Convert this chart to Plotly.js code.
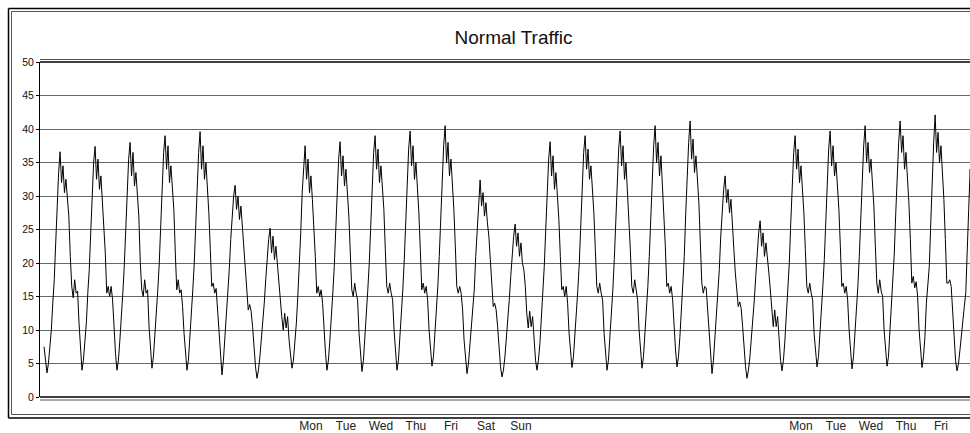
<!DOCTYPE html>
<html>
<head>
<meta charset="utf-8">
<script src="https://cdn.plot.ly/plotly-3.0.1.min.js"></script>
<style>
  html, body { margin: 0; padding: 0; background: #fff; overflow: hidden; }
  #chart { width: 970px; height: 433px; }
</style>
</head>
<body>
<div id="chart"></div>
<script>
// ---- DATA (hourly traffic readings, first reading at hour -1) ----
const firstHour = -1;

// Week 1: lead-in reading + Mon..Sun (days 0-6)
const week1 = [
  7.5,
  5.2, 3.6, 5, 7.5, 10, 14, 17.5, 23, 29, 33.5, 36.6, 32, 34.5, 30.5, 32.5, 30, 27, 21, 16.5, 14.8, 17.5, 15.5, 15.8, 11,
  7, 4.0, 5.5, 8, 11, 15.5, 19, 24.5, 30, 35, 37.4, 32.5, 35.5, 31, 33, 29.5, 26, 21.5, 15.5, 16.5, 15, 16.5, 14.5, 10,
  6.5, 4.0, 5.5, 8.5, 11.5, 15.5, 19.5, 25, 31, 35.5, 38, 33, 36.5, 31.5, 33.5, 30.5, 27, 20, 16, 15, 17.5, 15.5, 16, 10.5,
  7, 4.3, 6, 9, 12, 16, 20, 26, 32, 36.5, 39, 34, 37.5, 32, 34.5, 31, 28, 21.5, 16, 17.5, 15.5, 16, 13.5, 9.5,
  6, 4.0, 5.5, 8.5, 12, 16, 20, 26, 32, 36.5, 39.6, 34, 37.5, 32.5, 35, 31.5, 27.5, 22, 16.5, 17, 15.5, 16.2, 13, 9,
  5.5, 3.3, 5.5, 8.5, 12, 15, 19, 23.5, 27.5, 30, 31.6, 28, 30, 26.5, 28.5, 25.5, 22, 19, 15.5, 13, 13.8, 12.8, 10.5, 7,
  4.5, 2.8, 4, 6, 8.5, 11.5, 14, 17.5, 21, 23.5, 25.2, 21.5, 24, 20.5, 22.5, 19.5, 17.5, 14, 12, 10, 12.5, 10.3, 12, 8.5
];

// Week 2: Mon..Sun (days 7-13)
const week2 = [
  6, 4.3, 5.5, 8, 11, 15, 19, 24.5, 30.5, 35, 37.5, 32.5, 35.5, 30.5, 33, 29.5, 26, 21, 15.5, 16.5, 15, 16, 14, 9.5,
  6.5, 4.0, 5.5, 8.5, 11.5, 15.5, 19.5, 25, 31, 35.5, 38.1, 33, 36, 31.5, 34, 30.5, 27, 21.5, 16, 15, 17, 15.5, 14.5, 9.5,
  6, 3.8, 5.5, 8.5, 12, 16, 20, 26, 32, 36.5, 39, 34, 37, 32, 34.5, 31, 28, 22, 16.5, 15.5, 17, 15.5, 14.5, 10,
  6.5, 4.0, 5.5, 8.5, 12, 16, 20.5, 26.5, 32.5, 37, 39.7, 34.5, 37.5, 32.5, 35, 31.5, 27.5, 22, 16, 17, 15.5, 16.5, 14.5, 10,
  7, 4.6, 6, 9, 12.5, 16.5, 21, 27, 33, 37.5, 40.5, 35, 38, 33, 35.5, 32, 28, 22.5, 16.5, 15.5, 16.5, 15.5, 13, 8.5,
  6, 3.5, 5, 7.5, 10.5, 13, 16, 21, 25.5, 29.5, 32.4, 28.5, 30.5, 27, 29, 26, 24, 20.5, 16, 13.5, 14, 13, 10.5, 7,
  4.5, 3.0, 4, 6, 8.5, 11.5, 14.5, 18, 21.5, 24, 25.8, 22.5, 24.5, 21, 23, 20, 19, 16.5, 12.5, 10.3, 12.8, 10.5, 12, 8
];

// Week 3: Mon..Sun (days 14-20)
const week3 = [
  5.5, 4.0, 5.5, 8, 11.5, 15.5, 19.5, 25, 31, 35.5, 38.1, 33, 36, 31, 33.5, 30, 26.5, 21, 16, 16.5, 15, 16.5, 14, 9.5,
  6.5, 4.4, 6, 9, 12, 16, 20, 26, 32, 36.5, 39, 34, 37, 32.5, 34.5, 31, 27.5, 22, 16.5, 15.5, 17, 15.5, 14.5, 9.5,
  6.5, 4.0, 5.5, 8.5, 12, 16, 20.5, 26.5, 32.5, 37, 39.7, 34.5, 37.5, 32.5, 35, 31, 28, 22, 16.5, 15.5, 17.5, 15.5, 14.5, 10,
  6.5, 4.3, 6, 9, 12.5, 16.5, 21, 27, 33, 37.5, 40.5, 35, 38, 33, 36, 32, 28.5, 22.5, 16.5, 17, 15.5, 16.5, 14.5, 10,
  7, 4.5, 6, 9, 12.5, 16.5, 21, 27.5, 33.5, 38, 41.2, 35.5, 38.5, 33.5, 36, 32.5, 29, 23, 17, 15.5, 16.5, 16.3, 13, 8.5,
  5.5, 3.5, 5.5, 8.5, 12, 15, 19, 24, 28, 31, 33, 29, 31, 27.5, 29.5, 26.5, 22, 18.5, 15.5, 13.5, 14.2, 13.2, 10.5, 7,
  4.5, 2.8, 4, 6, 8.5, 11.5, 14.5, 18, 22, 24.5, 26.3, 22.5, 24.5, 21, 23, 20, 18.5, 16, 12.5, 10.5, 13, 10.5, 12, 8
];

// Week 4: Mon..Fri (days 21-25) + start of Saturday (day 26)
const week4 = [
  5.5, 3.9, 5.5, 8.5, 12, 16, 20, 26, 32, 36.5, 39, 34, 37, 32, 34.5, 31, 27.5, 22, 16.5, 15.5, 17, 15.5, 14.5, 9.5,
  7, 4.5, 6, 9, 12.5, 16.5, 20.5, 26.5, 32.5, 37, 39.7, 34.5, 37.5, 33, 35, 31.5, 28, 22.5, 16.5, 17, 15.5, 16.5, 14.5, 10,
  6.5, 4.2, 6, 9, 12.5, 16.5, 21, 27, 33, 37.5, 40.5, 35, 38, 33.5, 35.5, 32, 28.5, 22.5, 17, 15.5, 17.5, 15.8, 15, 10,
  7, 4.6, 6, 9.5, 13, 17, 21.5, 27.5, 33.5, 38, 41.2, 36.5, 39, 34, 36.5, 33.5, 29, 23.5, 17, 18, 16.3, 17.2, 15, 10,
  7, 4.4, 6, 9, 14, 17, 19.5, 26, 33, 38, 42.1, 36.5, 39.5, 35, 37.5, 34, 29.5, 23.5, 17, 17, 17.5, 16.5, 13, 8.5,
  5.5, 3.9, 5, 7, 9.5, 11.5, 13.5, 15.5, 20.5, 28, 34, 31
];

// Day-name tick labels (day index -> label)
const labelDays = [7, 8, 9, 10, 11, 12, 13, 21, 22, 23, 24, 25];
const labelText = ['Mon', 'Tue', 'Wed', 'Thu', 'Fri', 'Sat', 'Sun', 'Mon', 'Tue', 'Wed', 'Thu', 'Fri'];
const yTicks = [0, 5, 10, 15, 20, 25, 30, 35, 40, 45, 50];
const chartTitle = 'Normal Traffic';

// ---- BUILD ----
const values = [].concat(week1, week2, week3, week4);
const hours = values.map((_, i) => firstHour + i);
const tickHours = labelDays.map(d => d * 24 + 14);

// layout geometry (pixels)
const L = 40, T = 62, W = 930, H = 335;
const px = p => (p - L) / W;
const py = p => (T + H - p) / H;

const FONT = 'Liberation Sans, Arial, Helvetica, sans-serif';

function hline(y, color, width, x0, x1) {
  return { type: 'line', xref: 'paper', yref: 'paper', x0: px(x0), x1: px(x1), y0: py(y), y1: py(y),
           line: { color: color, width: width }, layer: 'above' };
}
function vline(x, color, width, y0, y1) {
  return { type: 'line', xref: 'paper', yref: 'paper', x0: px(x), x1: px(x), y0: py(y0), y1: py(y1),
           line: { color: color, width: width }, layer: 'above' };
}

const shapes = [
  // outer frame (double line)
  hline(8.5, '#000', 1.5, 8.5, 1040),
  hline(11.5, '#555', 1, 11.5, 1040),
  hline(418, '#000', 1.5, 8.5, 1040),
  hline(414.5, '#555', 1, 11.5, 1040),
  vline(8.5, '#000', 1.5, 8.5, 418),
  vline(11.5, '#555', 1, 11.5, 414.5),
  // plot area frame double lines
  hline(59.5, '#555', 1, 40, 1040),
  hline(62, '#000', 1.5, 40, 1040),
  hline(397, '#000', 1.5, 40, 1040),
  hline(400, '#555', 1, 40, 1040),
];

const trace = {
  x: hours,
  y: values,
  type: 'scatter',
  mode: 'lines',
  line: { color: '#000', width: 1 },
  hoverinfo: 'skip'
};

const layout = {
  width: 970,
  height: 433,
  margin: { l: L, r: 0, t: T, b: 433 - T - H, pad: 0 },
  paper_bgcolor: '#fff',
  plot_bgcolor: '#fff',
  showlegend: false,
  font: { family: FONT, color: '#111' },
  title: {
    text: chartTitle,
    font: { family: FONT, size: 19, color: '#111' },
    xref: 'paper', x: px(513.5), xanchor: 'center',
    yref: 'container', y: (433 - 37) / 433, yanchor: 'middle'
  },
  xaxis: {
    range: [-3.77, 633.9],
    showgrid: false,
    zeroline: false,
    showline: false,
    tickmode: 'array',
    tickvals: tickHours,
    ticktext: labelText,
    ticks: '',
    tickfont: { family: FONT, size: 12, color: '#222' },
    ticklabelstandoff: 20,
    fixedrange: true
  },
  yaxis: {
    range: [0, 50],
    tickmode: 'array',
    tickvals: yTicks,
    showgrid: true,
    gridcolor: '#666',
    gridwidth: 1,
    zeroline: false,
    showline: true,
    linecolor: '#000',
    linewidth: 1,
    ticks: 'outside',
    ticklen: 3,
    tickcolor: '#000',
    tickwidth: 1,
    tickfont: { family: FONT, size: 10.5, color: '#111' },
    fixedrange: true
  },
  shapes: shapes
};

Plotly.newPlot('chart', [trace], layout, { staticPlot: true, displayModeBar: false });
</script>
</body>
</html>
